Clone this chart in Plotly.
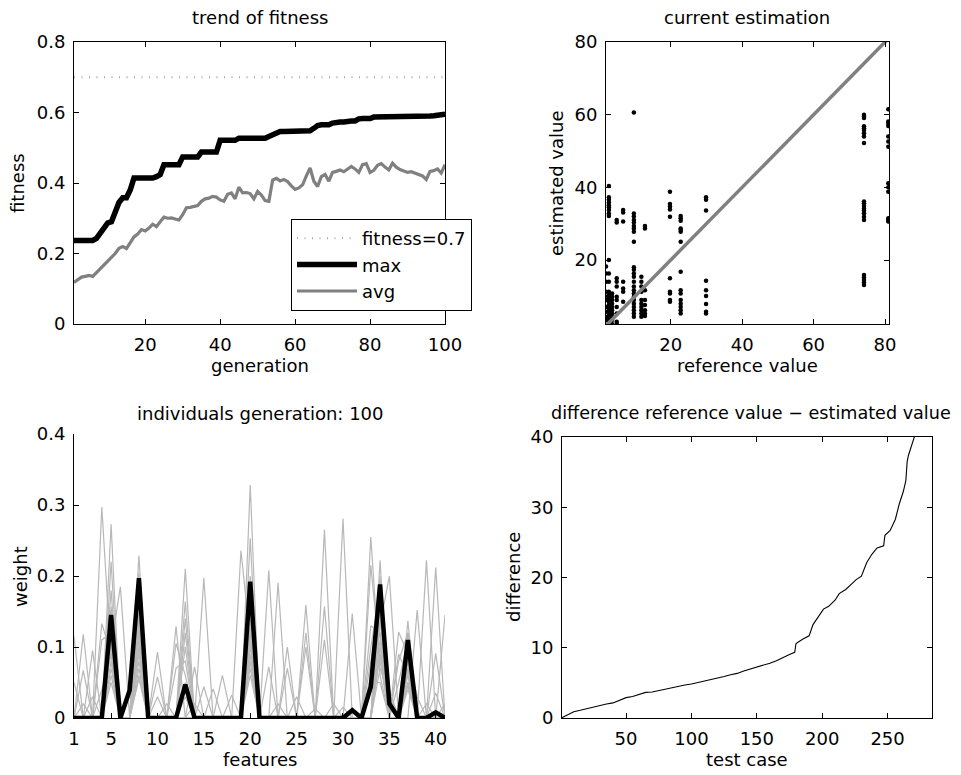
import plotly.graph_objects as go

FONT = "DejaVu Sans"
W, H = 961, 775

# ---------------- data: trend of fitness ----------------
generations = list(range(1, 101))
max_fitness = [
    0.237, 0.237, 0.237, 0.237, 0.237, 0.237, 0.243, 0.256, 0.270, 0.287,
    0.290, 0.315, 0.345, 0.358, 0.358, 0.380, 0.414, 0.414, 0.414, 0.414,
    0.414, 0.414, 0.418, 0.424, 0.452, 0.452, 0.452, 0.452, 0.452, 0.474,
    0.474, 0.474, 0.474, 0.474, 0.488, 0.488, 0.488, 0.488, 0.488, 0.521,
    0.521, 0.521, 0.521, 0.521, 0.527, 0.527, 0.527, 0.527, 0.527, 0.527,
    0.527, 0.527, 0.532, 0.537, 0.540, 0.546, 0.546, 0.546, 0.546, 0.546,
    0.546, 0.546, 0.546, 0.548, 0.555, 0.563, 0.565, 0.565, 0.565, 0.570,
    0.573, 0.573, 0.573, 0.576, 0.576, 0.576, 0.582, 0.583, 0.583, 0.583,
    0.587, 0.587, 0.587, 0.587, 0.587, 0.587, 0.587, 0.588, 0.588, 0.588,
    0.588, 0.588, 0.589, 0.589, 0.589, 0.590, 0.591, 0.592, 0.594, 0.595,
]
avg_fitness = [
    0.118, 0.125, 0.133, 0.135, 0.138, 0.135, 0.146, 0.155, 0.168, 0.180,
    0.190, 0.200, 0.215, 0.220, 0.214, 0.230, 0.247, 0.255, 0.268, 0.264,
    0.272, 0.283, 0.276, 0.290, 0.303, 0.300, 0.301, 0.298, 0.295, 0.310,
    0.330, 0.331, 0.333, 0.336, 0.348, 0.355, 0.357, 0.362, 0.360, 0.352,
    0.348, 0.368, 0.372, 0.355, 0.388, 0.372, 0.373, 0.370, 0.355, 0.376,
    0.366, 0.350, 0.348, 0.408, 0.413, 0.406, 0.410, 0.404, 0.392, 0.382,
    0.386, 0.395, 0.420, 0.443, 0.405, 0.390, 0.418, 0.424, 0.405, 0.430,
    0.433, 0.437, 0.432, 0.440, 0.447, 0.440, 0.430, 0.452, 0.455, 0.430,
    0.436, 0.450, 0.455, 0.445, 0.437, 0.456, 0.445, 0.438, 0.433, 0.430,
    0.432, 0.428, 0.426, 0.420, 0.410, 0.433, 0.435, 0.440, 0.428, 0.452,
]
fitness_goal = 0.7

# ---------------- data: current estimation ----------------
est_by_ref = {
    1.9: [18.2, 16.3, 14.0, 11.3, 9.9, 9.0, 7.1, 5.8, 4.4, 3.5],
    2.7: [40.4, 37.3, 36.6, 35.8, 35.1, 34.5, 33.8, 32.8, 32.1, 20.0, 16.3, 14.0,
          11.3, 10.4, 9.5, 8.5, 7.6, 6.7, 5.8, 4.8, 3.9, 2.8],
    3.6: [10.8, 9.9, 9.0, 8.0, 7.1, 6.2, 5.3, 4.4, 3.5, 2.4],
    4.9: [31.0, 30.3, 15.0, 14.0, 12.7, 9.9, 9.0, 7.1, 5.3, 3.0, 2.4],
    6.7: [33.8, 33.1, 30.6, 14.0, 12.2, 11.3, 8.5],
    9.7: [60.6, 32.8, 32.0, 31.0, 30.3, 29.4, 28.7, 27.8, 25.0, 18.0, 17.3, 16.3,
          15.4, 14.0, 12.7, 11.7, 10.8, 9.9, 9.0, 8.0, 7.1, 6.2, 5.3, 4.4],
    11.8: [15.4, 14.0, 12.7, 11.3, 9.0, 8.0, 7.1, 6.2, 5.3, 4.4],
    12.8: [29.4, 28.7, 11.7, 9.0, 7.6, 6.2, 5.3, 4.6],
    19.8: [38.8, 35.4, 34.7, 33.9, 31.9, 15.0, 11.3, 10.8, 9.0, 8.5],
    22.8: [32.1, 31.5, 30.8, 28.7, 28.3, 27.8, 25.0, 16.8, 11.7, 10.8, 9.0, 8.0,
           7.1, 6.2, 5.3],
    29.9: [37.3, 36.6, 33.6, 14.3, 11.7, 10.1, 7.9, 5.8, 5.3],
    74.1: [60.0, 59.5, 59.1, 56.8, 56.3, 55.8, 54.9, 54.0, 52.2, 36.1, 35.6, 34.9,
           34.2, 33.6, 32.9, 31.9, 31.0, 15.9, 15.2, 14.5, 13.8, 13.1],
    80.9: [61.5, 58.1, 57.5, 56.9, 54.0, 52.6, 51.2, 41.1, 40.0, 38.8, 31.5, 31.0,
           30.6],
}

# ---------------- data: individuals generation 100 ----------------
features = list(range(1, 42))
best_individual = {5: 0.145, 7: 0.039, 8: 0.197, 13: 0.047, 20: 0.192, 31: 0.011,
                   33: 0.044, 34: 0.188, 35: 0.020, 37: 0.110, 40: 0.008}
population = [
    {4: 0.297, 5: 0.08, 8: 0.12, 13: 0.05, 20: 0.10, 33: 0.06, 34: 0.12, 37: 0.06},
    {5: 0.273, 8: 0.10, 10: 0.093, 20: 0.08, 28: 0.265, 34: 0.10, 37: 0.05},
    {1: 0.115, 5: 0.22, 8: 0.15, 20: 0.12, 30: 0.281, 34: 0.09, 37: 0.07},
    {2: 0.118, 5: 0.10, 6: 0.185, 8: 0.13, 13: 0.21, 20: 0.09, 33: 0.255, 34: 0.06, 37: 0.08},
    {3: 0.095, 5: 0.157, 8: 0.229, 15: 0.197, 20: 0.253, 34: 0.14, 37: 0.12},
    {2: 0.067, 4: 0.133, 5: 0.09, 8: 0.09, 12: 0.129, 20: 0.328, 34: 0.16, 37: 0.05},
    {4: 0.11, 5: 0.12, 8: 0.204, 13: 0.164, 19: 0.236, 20: 0.11, 34: 0.13, 35: 0.20, 37: 0.04},
    {5: 0.06, 8: 0.07, 12: 0.105, 13: 0.06, 20: 0.07, 22: 0.208, 34: 0.222, 36: 0.121,
     37: 0.09, 39: 0.222},
    {5: 0.11, 8: 0.11, 14: 0.072, 20: 0.15, 23: 0.19, 31: 0.147, 33: 0.215, 34: 0.08,
     37: 0.137, 40: 0.212},
    {5: 0.07, 8: 0.08, 10: 0.058, 16: 0.041, 20: 0.14, 24: 0.10, 26: 0.159, 28: 0.157,
     34: 0.11, 38: 0.152, 41: 0.145},
    {5: 0.13, 8: 0.16, 13: 0.12, 17: 0.06, 20: 0.17, 22: 0.072, 26: 0.12, 33: 0.10,
     34: 0.18, 37: 0.10, 40: 0.091},
    {5: 0.05, 8: 0.055, 15: 0.044, 18: 0.032, 20: 0.06, 27: 0.013, 33: 0.05, 34: 0.05,
     36: 0.09, 37: 0.06},
    {5: 0.14, 8: 0.18, 13: 0.03, 20: 0.20, 24: 0.07, 33: 0.04, 34: 0.20, 36: 0.05,
     37: 0.11, 41: 0.02},
    {4: 0.04, 5: 0.09, 7: 0.03, 8: 0.12, 12: 0.07, 13: 0.08, 20: 0.13, 31: 0.01,
     33: 0.08, 34: 0.15, 35: 0.04, 37: 0.07},
    {1: 0.05, 5: 0.10, 8: 0.10, 14: 0.02, 20: 0.09, 25: 0.03, 29: 0.02, 34: 0.07,
     35: 0.03, 37: 0.045, 39: 0.02},
    {3: 0.03, 5: 0.18, 8: 0.14, 13: 0.14, 20: 0.11, 28: 0.11, 33: 0.13, 34: 0.12,
     37: 0.08, 40: 0.035},
    {5: 0.12, 8: 0.06, 10: 0.03, 13: 0.10, 20: 0.08, 26: 0.10, 34: 0.09, 36: 0.08, 37: 0.12},
    {2: 0.02, 5: 0.08, 8: 0.14, 11: 0.02, 20: 0.16, 23: 0.02, 30: 0.015, 34: 0.17,
     37: 0.09, 38: 0.03},
]

# ---------------- data: difference ----------------
diff_case = [1, 5, 10, 15, 20, 25, 30, 35, 40, 45, 50, 55, 60, 65, 70, 75, 80, 85, 90,
             95, 100, 105, 110, 115, 120, 125, 130, 135, 140, 145, 150, 155, 160, 165,
             170, 175, 179, 180, 185, 190, 193, 197, 201, 205, 210, 213, 218, 222, 226,
             230, 234, 238, 242, 247, 248, 252, 256, 259, 262, 264, 265, 266, 269, 271,
             275, 280, 284]
diff_value = [0.05, 0.4, 0.9, 1.1, 1.35, 1.6, 1.8, 2.0, 2.15, 2.5, 2.9, 3.05, 3.3, 3.65,
              3.7, 3.9, 4.2, 4.35, 4.5, 4.7, 4.85, 5.05, 5.2, 5.4, 5.6, 5.9, 6.15, 6.35,
              6.7, 6.95, 7.25, 7.5, 7.8, 8.15, 8.65, 9.05, 9.35, 10.6, 11.2, 11.7, 13.3,
              14.5, 15.5, 15.9, 16.8, 17.7, 18.3, 19.0, 19.7, 20.2, 22.1, 23.3, 24.2,
              24.5, 26.0, 26.7, 28.3, 30.5, 32.2, 33.8, 36.5, 37.4, 39.0, 40.3, 44.0,
              52.0, 62.0]

# ---------------- figure ----------------
def px_x(p):
    return p / W

def px_y(p):
    return 1 - p / H

fig = go.Figure()

# top-left
fig.add_trace(go.Scatter(x=generations, y=[fitness_goal] * len(generations), mode="lines",
                         name="fitness=0.7",
                         line=dict(color="#a8a8a8", width=2, dash="1px,6.5px"),
                         xaxis="x", yaxis="y"))
fig.add_trace(go.Scatter(x=generations, y=max_fitness, mode="lines", name="max",
                         line=dict(color="black", width=5.5), xaxis="x", yaxis="y"))
fig.add_trace(go.Scatter(x=generations, y=avg_fitness, mode="lines", name="avg",
                         line=dict(color="#808080", width=3.2), xaxis="x", yaxis="y"))

# top-right
ref_vals, est_vals = [], []
for r, ests in est_by_ref.items():
    for e in ests:
        ref_vals.append(r)
        est_vals.append(e)
fig.add_trace(go.Scatter(x=ref_vals, y=est_vals, mode="markers", showlegend=False,
                         marker=dict(color="black", size=4.5), xaxis="x2", yaxis="y2"))
lo, hi = min(ref_vals), max(ref_vals)
fig.add_trace(go.Scatter(x=[0, hi + 5], y=[0, hi + 5], mode="lines", showlegend=False,
                         line=dict(color="#808080", width=3.5), xaxis="x2", yaxis="y2"))

# bottom-left
for ind in population:
    fig.add_trace(go.Scatter(x=features, y=[ind.get(f, 0) for f in features], mode="lines",
                             showlegend=False, line=dict(color="#b8b8b8", width=1.2),
                             xaxis="x3", yaxis="y3"))
fig.add_trace(go.Scatter(x=features, y=[best_individual.get(f, 0) for f in features],
                         mode="lines", showlegend=False, line=dict(color="black", width=4.5),
                         xaxis="x3", yaxis="y3"))

# bottom-right
fig.add_trace(go.Scatter(x=diff_case, y=diff_value, mode="lines", showlegend=False,
                         line=dict(color="black", width=1.1), xaxis="x4", yaxis="y4"))

tickfont = dict(family=FONT, size=18, color="black")

def ax(domain, rng, tickvals, ticktext=None, anchor=None, mirror="ticks", standoff=4):
    d = dict(domain=domain, range=rng, tickvals=tickvals, showgrid=False, zeroline=False,
             showline=True, linecolor="black", linewidth=1, ticks="inside", ticklen=5,
             tickcolor="black", tickfont=tickfont, mirror=mirror, anchor=anchor,
             ticklabelstandoff=standoff, automargin=False)
    if ticktext is not None:
        d["ticktext"] = ticktext
    return d

tl_x = [px_x(74), px_x(445)]
tl_y = [px_y(324), px_y(42)]
tr_x = [px_x(606), px_x(889)]
bl_x = [px_x(74), px_x(445)]
bl_y = [px_y(718), px_y(434)]
br_x = [px_x(562), px_x(932)]
br_y = [px_y(718), px_y(437)]

fig.update_layout(
    width=W, height=H, margin=dict(l=0, r=0, t=0, b=0, pad=0, autoexpand=False),
    paper_bgcolor="white", plot_bgcolor="white",
    font=dict(family=FONT, size=18, color="black"),
    xaxis=ax(tl_x, [1, 100], [20, 40, 60, 80, 100], anchor="y", standoff=4),
    yaxis=ax(tl_y, [0, 0.8], [0, 0.2, 0.4, 0.6, 0.8], ["0", "0.2", "0.4", "0.6", "0.8"],
             anchor="x"),
    xaxis2=ax(tr_x, [1.9, 81.1], [20, 40, 60, 80], anchor="y2", standoff=4),
    yaxis2=ax(tl_y, [2.4, 80], [20, 40, 60, 80], anchor="x2"),
    xaxis3=ax(bl_x, [1, 41], [1, 5, 10, 15, 20, 25, 30, 35, 40], anchor="y3", mirror=False,
              standoff=4),
    yaxis3=ax(bl_y, [0, 0.4], [0, 0.1, 0.2, 0.3, 0.4], ["0", "0.1", "0.2", "0.3", "0.4"],
              anchor="x3", mirror=False),
    xaxis4=ax(br_x, [1, 284], [50, 100, 150, 200, 250], anchor="y4", standoff=4),
    yaxis4=ax(br_y, [0, 40], [0, 10, 20, 30, 40], anchor="x4"),
    legend=dict(x=px_x(472), y=px_y(219), xanchor="right", yanchor="top",
                bgcolor="white", bordercolor="black", borderwidth=1,
                font=dict(family=FONT, size=18, color="black"), itemwidth=60,
                tracegroupgap=0),
)

def label(text, x, y, angle=0, size=18):
    fig.add_annotation(text=text, x=px_x(x), y=px_y(y), xref="paper", yref="paper",
                       showarrow=False, textangle=angle, xanchor="center", yanchor="middle",
                       font=dict(family=FONT, size=size, color="black"))

label("trend of fitness", 260, 18)
label("current estimation", 747, 18)
label("individuals generation: 100", 260, 413)
label("difference reference value \u2212 estimated value", 751, 413, size=17.6)
label("generation", 260, 366)
label("fitness", 18, 183, angle=-90)
label("reference value", 747, 366)
label("estimated value", 557, 183, angle=-90)
label("features", 260, 759)
label("weight", 20, 577, angle=-90)
label("test case", 747, 759)
label("difference", 513, 577, angle=-90)

fig.write_html("out.html", config={"displayModeBar": False},
               post_script="document.body.style.margin='0px';document.body.style.padding='0px';")
